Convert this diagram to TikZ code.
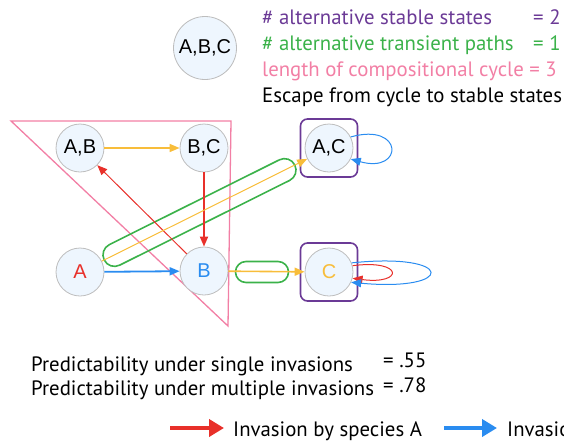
\documentclass[tikz,border=0pt]{standalone}
\usepackage{fontspec}
\setmainfont{PT Sans}
\newfontfamily\nodefont{Liberation Sans}
\usetikzlibrary{arrows.meta}
\definecolor{corange}{HTML}{F8BD3A}
\definecolor{cred}{HTML}{E8302A}
\definecolor{cblue}{HTML}{2A8CF0}
\definecolor{cgreen}{HTML}{3BB24A}
\definecolor{cpurple}{HTML}{6B3A96}
\definecolor{cpink}{HTML}{F27FA5}
\definecolor{cfill}{HTML}{EEF6FE}
\definecolor{cgray}{HTML}{BDBDBD}
\begin{document}
\begin{tikzpicture}[x=1pt,y=-1pt,
  state/.style={circle, draw=cgray, fill=cfill, line width=0.8pt, minimum size=48pt, inner sep=0pt, font=\nodefont\fontsize{20}{22}\selectfont},
  pbox/.style={draw=cpurple, line width=1.6pt, rounded corners=7pt, minimum width=57pt, minimum height=58pt, inner sep=0pt},
  capsule/.style={draw=cgreen, line width=1.6pt, inner sep=0pt},
  tip/.style={-{Triangle[length=10pt,width=8pt]}},
  lbl/.style={anchor=base west, inner sep=0pt, font=\fontsize{20.8}{23}\selectfont},
  legarrow/.style={line width=4pt, -{Triangle[length=15pt,width=17pt]}}
]
\useasboundingbox (0,0) rectangle (564,442);
% compositional cycle triangle
\draw[cpink, line width=1.3pt] (11,121) -- (231,121) -- (228,326) -- cycle;
% stable state boxes
\node[pbox] (ACbox) at (329,148) {};
\node[pbox] (Cbox) at (329,272) {};
% states
\node[state, minimum size=63pt] (ABC) at (205,48) {A,B,C};
\node[state] (AB) at (80,148) {A,B};
\node[state] (BC) at (204,148) {B,C};
\node[state] (A) at (80,272) {\textcolor{cred}{A}};
\node[state] (B) at (204,271) {\textcolor{cblue}{B}};
\node[state] (AC) at (329,148) {A,C};
\node[state] (C) at (329,272) {\textcolor{corange}{C}};
% transient path capsules
\node[capsule, rounded corners=11.5pt, minimum width=213pt, minimum height=23pt, rotate=26.5] (cap1) at (199.5,212.5) {};
\node[capsule, rounded corners=10.5pt, minimum width=53pt, minimum height=21pt] (cap2) at (262,272) {};
% transitions
\draw[tip, corange, line width=1.5pt] (AB) -- (BC);
\draw[tip, cred, line width=1.8pt] (BC) -- (B);
\draw[tip, cred, line width=1pt] (B) -- (AB);
\draw[tip, cblue, line width=1.8pt] (A) -- (B);
\draw[tip, corange, line width=1pt] (A) -- (AC);
\draw[tip, corange, line width=1.6pt] (B) -- (C);
\draw[tip, cblue, line width=1pt] (AC.27) .. controls (404,122) and (404,174) .. (AC.-27);
\draw[tip, cred, line width=1pt] (C.15) .. controls (404,259) and (404,285) .. (C.-15);
\draw[tip, cblue, line width=1pt] (C.22) .. controls (456,252) and (456,292) .. (C.-25);
% top texts
\node[lbl, text=cpurple] (t1) at (262,24) {\# alternative stable states};
\node[lbl, text=cpurple] (t1v) at (533,24) {= 2};
\node[lbl, text=cgreen] (t2) at (262,50) {\# alternative transient paths};
\node[lbl, text=cgreen] (t2v) at (533,50) {= 1};
\node[lbl, text=cpink] (t3) at (262,76) {length of compositional cycle = 3};
\node[lbl] (t4) at (262,102) {Escape from cycle to stable states};
% predictability
\node[lbl] (p1) at (31,371) {Predictability under single invasions};
\node[lbl] (p1v) at (383,367) {= .55};
\node[lbl] (p2) at (31,395) {Predictability under multiple invasions};
\node[lbl] (p2v) at (383,392) {= .78};
% legend
\coordinate (la1) at (170,428);
\coordinate (la2) at (224,428);
\coordinate (lb1) at (444,428);
\coordinate (lb2) at (497,428);
\draw[legarrow, cred] (la1) -- (la2);
\node[lbl] (leg1) at (233,436) {Invasion by species A};
\draw[legarrow, cblue] (lb1) -- (lb2);
\node[lbl] (leg2) at (507,436) {Invasion by species B};
\end{tikzpicture}
\end{document}
